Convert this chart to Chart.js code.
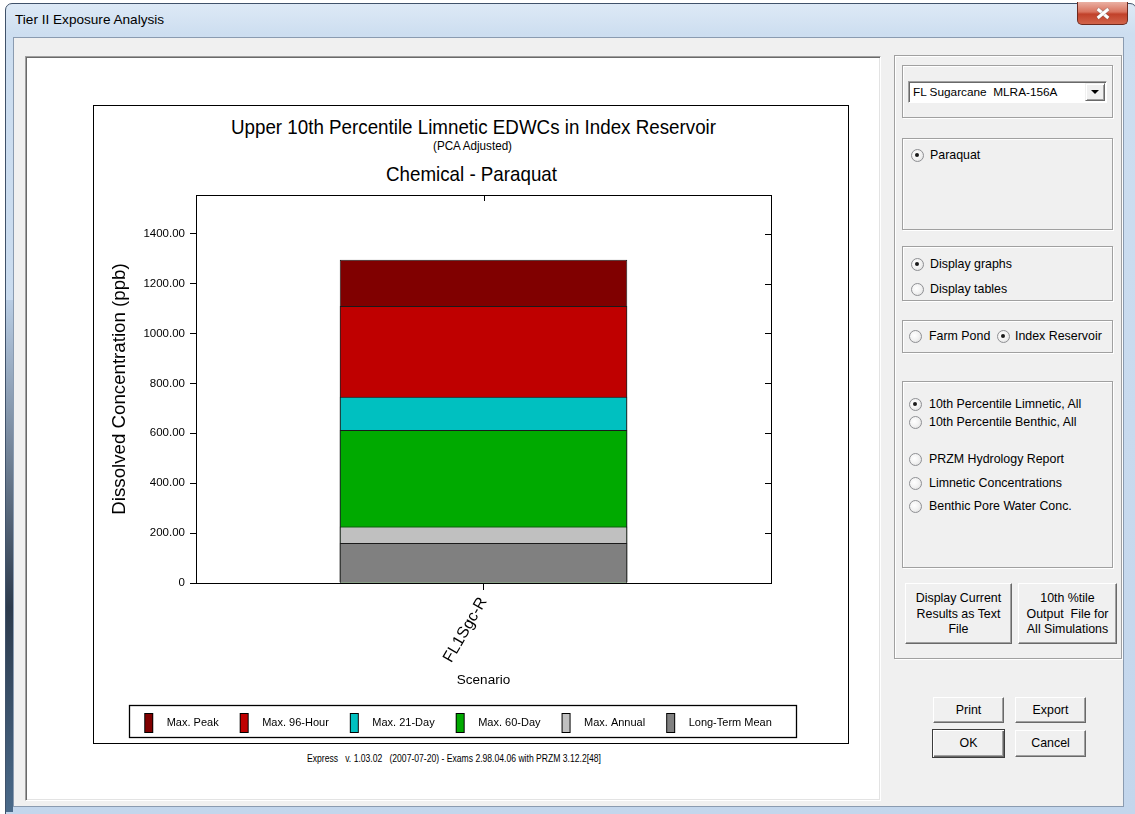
<!DOCTYPE html>
<html><head><meta charset="utf-8">
<script src="https://cdn.jsdelivr.net/npm/chart.js@4.4.0/dist/chart.umd.min.js"></script>
<style>
body{margin:0;width:1135px;height:814px;overflow:hidden;background:#fff;position:relative;font-family:'Liberation Sans',Arial,sans-serif;color:#000}
.a{position:absolute;box-sizing:border-box}
.fit{position:absolute;white-space:pre;display:inline-block}
.grp{position:absolute;box-sizing:border-box;border:1px solid #a0a0a0;box-shadow:1px 1px 0 #fff,inset 1px 1px 0 #fff}
.t{position:absolute;font-size:12.4px;line-height:15px;white-space:pre}
.rb{position:absolute;width:13px;height:13px;border-radius:50%;box-sizing:border-box;border:1px solid #8f9094;background:radial-gradient(circle at 40% 40%,#fff 0,#f2f2f2 50%,#d8d8d8 100%)}
.rb.on::after{content:"";position:absolute;left:3.5px;top:3.5px;width:4px;height:4px;border-radius:50%;background:#1a1a1a}
.btn{position:absolute;box-sizing:border-box;background:#f0f0f0;border:1px solid;border-color:#fff #696969 #696969 #fff;box-shadow:inset -1px -1px 0 #a0a0a0;text-align:center;font-size:12.4px;line-height:15.5px;white-space:pre}
</style></head><body>
<!-- window frame -->
<div class="a" style="left:5px;top:3px;width:1132px;height:813px;background:linear-gradient(#dde9f6,#cddef0 30px,#c3d6ec);border:1px solid #40526a;border-radius:7px 7px 0 0"></div>
<div class="a" style="left:6px;top:300px;width:7px;height:512px;background:linear-gradient(#b9cde4,#2c3a4c 60%,#4a6a8a)"></div>
<div class="a" style="left:15px;top:11px;font-size:13.6px;line-height:18px">Tier II Exposure Analysis</div>
<div class="a" style="left:1077px;top:2px;width:51px;height:23px;border:1px solid #6d2a1f;border-top:none;border-radius:0 0 5px 5px;background:linear-gradient(#eab0a3,#d9735e 45%,#c1412a 55%,#d2644a)"></div>
<div class="a" style="left:1096px;top:11.5px;width:14px;height:3px;background:#fff;transform:rotate(40deg);box-shadow:0 0 1px #555"></div>
<div class="a" style="left:1096px;top:11.5px;width:14px;height:3px;background:#fff;transform:rotate(-40deg);box-shadow:0 0 1px #555"></div>
<!-- client area -->
<div class="a" style="left:13px;top:37px;width:1111px;height:770px;background:#f0f0f0;border:1px solid #8a9bb0"></div>
<!-- left sunken panel -->
<div class="a" style="left:25px;top:56px;width:856px;height:745px;background:#fff;border:1px solid;border-color:#a0a0a0 #fff #fff #a0a0a0;box-shadow:inset 1px 1px 0 #696969,inset -1px -1px 0 #e3e3e3"></div>
<!-- chart box -->
<div class="a" style="left:93px;top:105px;width:756px;height:639px;background:#fff;border:1px solid #000"></div>
<span id="t1" class="fit" style="top:115px;font-size:21px;line-height:24px">Upper 10th Percentile Limnetic EDWCs in Index Reservoir</span>
<span id="t2" class="fit" style="top:138px;font-size:13px;line-height:16px">(PCA Adjusted)</span>
<span id="t3" class="fit" style="top:162px;font-size:21px;line-height:24px">Chemical - Paraquat</span>
<canvas id="c" width="754" height="637" class="a" style="left:94px;top:106px;width:754px;height:637px"></canvas>
<span id="ft" class="fit" style="top:751px;font-size:11px;line-height:14px">Express   v. 1.03.02   (2007-07-20) - Exams 2.98.04.06 with PRZM 3.12.2[48]</span>
<!-- right panel -->
<div class="grp" style="left:894px;top:55px;width:228px;height:604px"></div>
<div class="grp" style="left:902px;top:65px;width:211px;height:53px"></div>
<div class="a" style="left:908px;top:81px;width:199px;height:22px;background:#fff;border:1px solid;border-color:#a0a0a0 #fff #fff #a0a0a0;box-shadow:inset 1px 1px 0 #696969"></div>
<div class="t" style="left:913px;top:84.5px;font-size:11.8px">FL Sugarcane  MLRA-156A</div>
<div class="a" style="left:1085px;top:83px;width:20px;height:18px;background:#f0f0f0;border:1px solid;border-color:#f0f0f0 #696969 #696969 #f0f0f0;box-shadow:inset 1px 1px 0 #fff,inset -1px -1px 0 #a0a0a0"></div>
<div class="a" style="left:1091px;top:90px;width:0;height:0;border-left:4px solid transparent;border-right:4px solid transparent;border-top:4px solid #000"></div>
<div class="grp" style="left:902px;top:138px;width:211px;height:92px"></div>
<div class="rb on" style="left:910.5px;top:148.5px"></div><div class="t" style="left:930px;top:147.5px">Paraquat</div>
<div class="grp" style="left:902px;top:246px;width:211px;height:55px"></div>
<div class="rb on" style="left:910.5px;top:257.5px"></div><div class="t" style="left:930px;top:256.5px">Display graphs</div>
<div class="rb" style="left:910.5px;top:282.5px"></div><div class="t" style="left:930px;top:281.5px">Display tables</div>
<div class="grp" style="left:902px;top:320px;width:211px;height:33px"></div>
<div class="rb" style="left:908.5px;top:329.5px"></div><div class="t" style="left:929px;top:328.5px">Farm Pond</div>
<div class="rb on" style="left:996.5px;top:329.5px"></div><div class="t" style="left:1015px;top:328.5px">Index Reservoir</div>
<div class="grp" style="left:902px;top:381px;width:211px;height:187px"></div>
<div class="rb on" style="left:908.5px;top:397.5px"></div><div class="t" style="left:929px;top:397px">10th Percentile Limnetic, All</div>
<div class="rb" style="left:908.5px;top:415.5px"></div><div class="t" style="left:929px;top:414.5px">10th Percentile Benthic, All</div>
<div class="rb" style="left:908.5px;top:452.5px"></div><div class="t" style="left:929px;top:451.5px">PRZM Hydrology Report</div>
<div class="rb" style="left:908.5px;top:476.5px"></div><div class="t" style="left:929px;top:475.5px">Limnetic Concentrations</div>
<div class="rb" style="left:908.5px;top:499.5px"></div><div class="t" style="left:929px;top:498.5px">Benthic Pore Water Conc.</div>
<div class="btn" style="left:905px;top:583px;width:107px;height:61px;padding-top:7px">Display Current
Results as Text
File</div>
<div class="btn" style="left:1018px;top:583px;width:99px;height:61px;padding-top:7px">10th %tile
Output  File for
All Simulations</div>
<div class="btn" style="left:933px;top:697px;width:71px;height:26px;padding-top:4.5px">Print</div>
<div class="btn" style="left:1015px;top:697px;width:71px;height:26px;padding-top:4.5px">Export</div>
<div class="btn" style="left:932px;top:729px;width:73px;height:29px;padding-top:5.5px;border:1px solid #3c3c3c;box-shadow:inset 1px 1px 0 #fff,inset -1px -1px 0 #696969,inset -2px -2px 0 #a0a0a0">OK</div>
<div class="btn" style="left:1015px;top:730px;width:71px;height:27px;padding-top:5px">Cancel</div>
<script>
// ---- data ----
const categories = ['FL1Sgc-R'];
const seriesNames = ['Max. Peak', 'Max. 96-Hour', 'Max. 21-Day', 'Max. 60-Day', 'Max. Annual', 'Long-Term Mean'];
const maxPeak = [1296];
const max96Hour = [1110];
const max21Day = [746];
const max60Day = [613];
const maxAnnual = [226];
const longTermMean = [160];
const seriesColors = ['#800000', '#bf0000', '#00c0c0', '#00aa00', '#c0c0c0', '#808080'];
const yAxisMax = 1555;
const yTickStep = 200;
const yAxisTitle = 'Dissolved Concentration (ppb)';
const xAxisTitle = 'Scenario';

// condense HTML text to the reference's narrow look
function fitText(id, target, cx) {
  const el = document.getElementById(id);
  const w = el.getBoundingClientRect().width;
  el.style.transformOrigin = '0 0';
  el.style.transform = 'scaleX(' + (target / w) + ')';
  el.style.left = (cx - target / 2) + 'px';
}
fitText('t1', 485, 473.5);
fitText('t2', 79, 472.5);
fitText('t3', 171, 471.5);
fitText('ft', 294, 454);

const seriesValues = [maxPeak, max96Hour, max21Day, max60Day, maxAnnual, longTermMean];
Chart.defaults.font.family = "'Liberation Sans',Arial,sans-serif";
Chart.defaults.color = '#000';

const legendImgs = seriesColors.map(c => {
  const cv = document.createElement('canvas'); cv.width = 28; cv.height = 20;
  const g = cv.getContext('2d');
  g.fillStyle = c; g.fillRect(11, 0, 9, 20);
  g.strokeStyle = '#000'; g.lineWidth = 1; g.strokeRect(11.5, 0.5, 8, 19);
  return cv;
});

const framePlugin = {
  id: 'frame',
  afterLayout(chart) {
    const ca = chart.chartArea, lg = chart.legend;
    lg.left = ca.left - 77; lg.right = ca.right + 15;
    lg.top = ca.bottom + 124.5; lg.bottom = ca.bottom + 154;
    lg.width = lg.right - lg.left; lg.height = lg.bottom - lg.top;
  },
  afterDraw(chart) {
    const ctx = chart.ctx, ca = chart.chartArea;
    const ys = chart.scales.y, xs = chart.scales.x;
    ctx.save();
    ctx.strokeStyle = '#000'; ctx.lineWidth = 1;
    ctx.strokeRect(Math.round(ca.left) + 0.5, Math.round(ca.top) + 0.5, Math.round(ca.right - ca.left), Math.round(ca.bottom - ca.top));
    ctx.beginPath();
    ys.ticks.forEach(t => {
      const py = Math.round(ys.getPixelForValue(t.value)) + 0.5;
      ctx.moveTo(Math.round(ca.right) - 6, py); ctx.lineTo(Math.round(ca.right), py);
    });
    xs.ticks.forEach((t, i) => {
      const px = Math.round(xs.getPixelForTick(i)) + 0.5;
      ctx.moveTo(px, Math.round(ca.top)); ctx.lineTo(px, Math.round(ca.top) + 6);
    });
    ctx.stroke();
    ctx.lineWidth = 1.3;
    const bl = Math.round(ca.left - 67), br = Math.round(ca.right + 25);
    const bt = Math.round(ca.bottom + 122), bb = Math.round(ca.bottom + 154);
    ctx.strokeRect(bl + 0.5, bt + 0.5, br - bl, bb - bt);
    ctx.restore();
  }
};

new Chart(document.getElementById('c'), {
  type: 'bar',
  data: {
    labels: categories,
    datasets: seriesNames.map((name, i) => ({
      label: name,
      data: seriesValues[i],
      backgroundColor: seriesColors[i],
      borderColor: '#1a1a1a',
      borderWidth: 1,
      order: seriesNames.length - i,
      categoryPercentage: 0.5,
      barPercentage: 1.0
    }))
  },
  options: {
    responsive: false,
    animation: false,
    devicePixelRatio: 1,
    layout: { padding: { top: 89, right: 77, left: 0, bottom: 0 } },
    plugins: {
      tooltip: { enabled: false },
      legend: {
        position: 'bottom',
        maxHeight: 30,
        labels: {
          usePointStyle: true,
          pointStyleWidth: 28,
          padding: 10,
          font: { size: 11 },
          color: '#000',
          generateLabels: () => seriesNames.map((name, i) => ({
            text: name, fillStyle: seriesColors[i], strokeStyle: '#000', lineWidth: 1,
            pointStyle: legendImgs[i], datasetIndex: i, hidden: false, fontColor: '#000'
          }))
        }
      }
    },
    scales: {
      x: {
        stacked: true,
        offset: true,
        grid: { drawOnChartArea: false, offset: false, color: '#000', tickColor: '#000', tickLength: 7 },
        border: { color: '#000', width: 1 },
        ticks: { font: { size: 16 }, minRotation: 60, maxRotation: 60, padding: 4, autoSkip: false },
        title: { display: true, text: xAxisTitle, font: { size: 13.5 }, padding: { top: 0, bottom: 25 } },
        afterFit: s => { s.height = 130; }
      },
      y: {
        stacked: false,
        min: 0,
        max: yAxisMax,
        grid: { drawOnChartArea: false, color: '#000', tickColor: '#000', tickLength: 6 },
        border: { color: '#000', width: 1 },
        ticks: {
          stepSize: yTickStep, includeBounds: false, padding: 5, font: { size: 11.5 },
          callback: v => v === 0 ? '0' : v.toFixed(2)
        },
        title: { display: true, text: yAxisTitle, font: { size: 18.7 }, padding: { top: 15, bottom: 0 } },
        afterFit: s => { s.width = 102; }
      }
    }
  },
  plugins: [framePlugin]
});
</script>
</body></html>
